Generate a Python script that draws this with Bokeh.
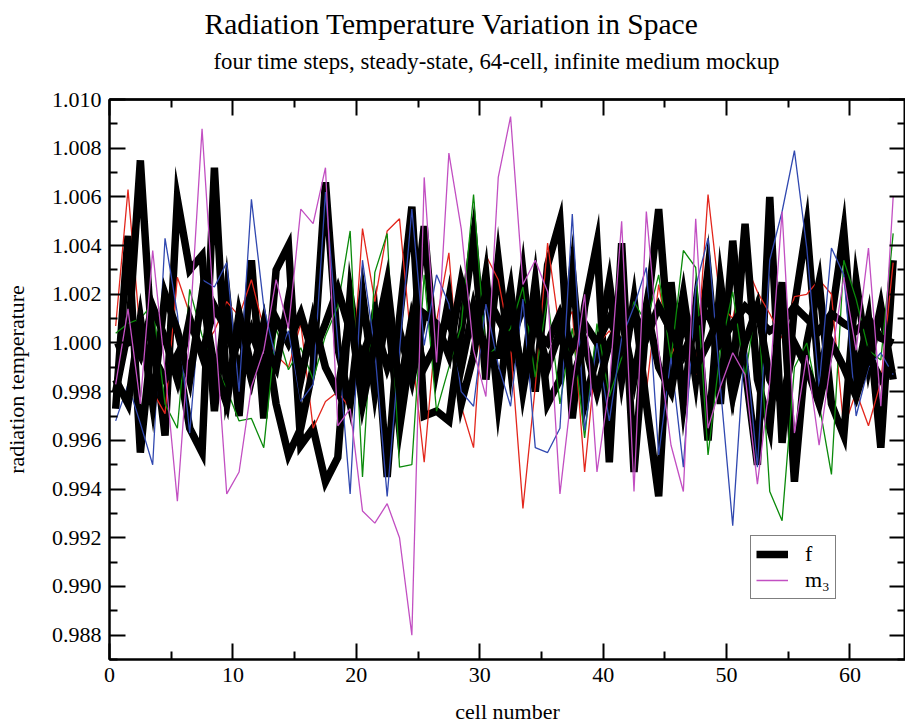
from bokeh.plotting import figure
from bokeh.models import (LinearAxis, FixedTicker, PrintfTickFormatter, Title,
                          Legend, LegendItem, Range1d)
from bokeh.embed import file_html
from bokeh.resources import INLINE

FONT = "Liberation Serif"

# cell centres
cell = [i + 0.5 for i in range(64)]

# f at four time steps (thick black)
f_t0 = [0.9973, 1.0044, 0.9955, 1.0005, 0.9962, 1.0059, 1.0030, 1.0036, 0.9972, 1.0021,
        0.9970, 1.0034, 0.9969, 1.0030, 1.0040, 0.9958, 0.9965, 0.9943, 0.9953, 1.0020,
        0.9985, 1.0012, 0.9945, 1.0010, 1.0056, 0.9970, 0.9972, 0.9968, 1.0005, 1.0044,
        0.9985, 1.0034, 0.9990, 1.0029, 0.9980, 1.0032, 1.0050, 0.9969, 1.0015, 1.0041,
        0.9951, 1.0041, 0.9947, 1.0010, 1.0055, 0.9990, 1.0020, 0.9985, 1.0030, 0.9975,
        1.0042, 0.9990, 0.9950, 1.0060, 0.9959, 1.0015, 1.0048, 0.9985, 1.0010, 1.0046,
        0.9985, 1.0010, 0.9957, 1.0034]
f_t1 = [0.9998, 1.0000, 1.0075, 0.9995, 0.9985, 0.9995, 0.9965, 0.9955, 1.0072, 0.9980,
        1.0005, 0.9985, 1.0008, 0.9975, 0.9954, 0.9965, 0.9990, 1.0066, 0.9998, 0.9975,
        1.0020, 0.9980, 1.0015, 0.9965, 1.0000, 1.0048, 0.9990, 1.0018, 0.9975, 0.9995,
        1.0028, 0.9975, 1.0015, 0.9985, 1.0025, 0.9975, 0.9985, 1.0030, 0.9975, 0.9995,
        1.0025, 0.9985, 1.0018, 0.9975, 0.9937, 1.0025, 0.9975, 1.0015, 0.9960, 1.0025,
        0.9985, 1.0049, 0.9985, 0.9965, 1.0025, 0.9943, 1.0000, 1.0025, 0.9975, 0.9962,
        1.0025, 0.9990, 1.0015, 0.9985]
f_t2 = [0.9980, 1.0005, 0.9995, 1.0015, 1.0002, 0.9985, 1.0010, 0.9995, 1.0015, 1.0005,
        0.9990, 1.0005, 0.9990, 1.0010, 1.0000, 1.0012, 0.9995, 1.0008, 1.0022, 1.0005,
        0.9995, 1.0008, 0.9990, 1.0005, 0.9985, 1.0012, 1.0008, 0.9995, 1.0025, 1.0005,
        1.0020, 1.0010, 1.0000, 1.0015, 1.0005, 1.0000, 1.0012, 0.9998, 1.0008, 1.0000,
        1.0010, 0.9998, 1.0012, 1.0002, 1.0015, 1.0005, 0.9995, 1.0008, 1.0012, 1.0000,
        1.0008, 1.0015, 1.0010, 1.0005, 1.0008, 1.0015, 1.0010, 1.0005, 1.0012, 1.0008,
        1.0005, 1.0010, 1.0002, 1.0000]
f_t3 = [0.9985, 0.9975, 1.0010, 0.9975, 1.0020, 1.0005, 0.9985, 1.0020, 0.9990, 0.9975,
        1.0012, 0.9990, 1.0000, 0.9990, 1.0018, 0.9985, 1.0010, 0.9990, 0.9980, 1.0012,
        0.9975, 1.0000, 1.0025, 0.9980, 1.0010, 0.9990, 1.0000, 1.0010, 0.9990, 1.0015,
        0.9995, 0.9995, 1.0022, 0.9980, 1.0010, 0.9990, 1.0005, 0.9985, 1.0000, 0.9980,
        1.0000, 1.0010, 0.9985, 1.0015, 0.9990, 0.9980, 1.0010, 0.9990, 1.0000, 1.0012,
        0.9978, 1.0000, 1.0015, 0.9985, 0.9975, 1.0000, 0.9990, 0.9975, 1.0000, 0.9990,
        0.9978, 0.9995, 0.9985, 0.9990]

# m at four time steps (thin coloured)
m_0 = [1.0007, 1.0063, 1.0003, 0.9980, 0.9971, 1.0027, 1.0012, 0.9997, 1.0005, 1.0017,
       1.0011, 1.0026, 1.0006, 0.9995, 0.9990, 1.0008, 0.9965, 0.9976, 0.9980, 0.9973,
       1.0047, 1.0017, 1.0046, 1.0051, 0.9997, 0.9951, 1.0009, 1.0037, 0.9974, 0.9957,
       1.0036, 1.0026, 0.9999, 0.9932, 0.9982, 1.0041, 1.0004, 1.0013, 0.9947, 0.9999,
       1.0005, 0.9995, 1.0008, 0.9980, 1.0024, 0.9995, 1.0006, 0.9987, 1.0061, 1.0016,
       1.0010, 1.0033, 1.0021, 1.0012, 1.0002, 1.0019, 1.0020, 1.0026, 1.0020, 0.9965,
       0.9980, 0.9966, 0.9984, 1.0033]
m_1 = [1.0004, 1.0008, 1.0010, 1.0016, 0.9975, 0.9965, 1.0022, 1.0003, 0.9992, 0.9981,
       0.9968, 0.9969, 0.9957, 1.0006, 0.9989, 0.9998, 0.9985, 1.0003, 1.0015, 1.0046,
       0.9945, 1.0029, 1.0045, 0.9949, 0.9950, 1.0028, 0.9972, 0.9990, 1.0007, 1.0061,
       0.9994, 0.9999, 1.0006, 1.0023, 0.9986, 1.0019, 0.9975, 1.0006, 0.9961, 1.0008,
       0.9978, 0.9994, 1.0017, 1.0008, 1.0028, 0.9993, 1.0038, 1.0031, 0.9954, 0.9997,
       1.0021, 0.9986, 1.0019, 0.9939, 0.9927, 0.9990, 1.0000, 0.9975, 0.9946, 1.0034,
       1.0018, 0.9997, 0.9993, 1.0045]
m_2 = [0.9968, 0.9983, 0.9967, 0.9950, 1.0043, 1.0012, 0.9963, 1.0026, 1.0023, 1.0033,
       0.9980, 1.0059, 1.0015, 0.9993, 1.0005, 0.9976, 0.9983, 1.0062, 1.0000, 0.9938,
       1.0034, 0.9997, 0.9937, 0.9997, 1.0055, 0.9999, 1.0028, 1.0016, 0.9980, 0.9974,
       1.0016, 0.9991, 0.9974, 1.0018, 0.9957, 0.9955, 0.9965, 1.0053, 0.9964, 1.0000,
       0.9968, 1.0002, 1.0015, 1.0031, 0.9954, 0.9994, 0.9949, 1.0023, 1.0043, 0.9982,
       0.9925, 1.0002, 0.9949, 1.0034, 1.0054, 1.0079, 1.0039, 0.9982, 1.0039, 1.0028,
       0.9970, 0.9990, 0.9996, 0.9987]
m_3 = [0.9983, 1.0014, 0.9975, 1.0038, 0.9989, 0.9935, 1.0005, 1.0088, 1.0010, 0.9938,
       0.9947, 0.9982, 0.9997, 1.0026, 1.0006, 1.0055, 1.0049, 1.0072, 0.9966, 0.9973,
       0.9931, 0.9926, 0.9934, 0.9920, 0.9880, 1.0068, 0.9992, 1.0078, 1.0047, 0.9997,
       0.9978, 1.0068, 1.0093, 1.0024, 1.0034, 1.0021, 0.9938, 0.9982, 1.0020, 0.9947,
       0.9982, 1.0050, 0.9939, 1.0054, 0.9997, 0.9958, 0.9939, 1.0051, 0.9965, 0.9982,
       0.9996, 0.9987, 0.9942, 0.9984, 1.0054, 0.9963, 0.9995, 0.9958, 0.9994, 1.0027,
       0.9997, 1.0039, 0.9974, 1.0060]

x_major = [0, 10, 20, 30, 40, 50, 60]
x_minor = [5, 15, 25, 35, 45, 55]
y_major = [0.988, 0.990, 0.992, 0.994, 0.996, 0.998, 1.000, 1.002, 1.004, 1.006, 1.008, 1.010]
y_minor = [0.987, 0.989, 0.991, 0.993, 0.995, 0.997, 0.999, 1.001, 1.003, 1.005, 1.007, 1.009]

title_text = "Radiation Temperature Variation in Space"
subtitle_text = "four time steps, steady-state, 64-cell, infinite medium mockup"

p = figure(width=905, height=726, x_range=Range1d(0, 64.5), y_range=Range1d(0.987, 1.010),
           output_backend="svg", toolbar_location=None, title=None,
           min_border_left=10, min_border_right=0, min_border_bottom=10, min_border_top=99)
p.xgrid.visible = False
p.ygrid.visible = False
p.outline_line_color = "black"
p.outline_line_width = 2
p.background_fill_color = "white"
p.border_fill_color = "white"


def style_axis(ax):
    ax.axis_line_color = "black"
    ax.axis_line_width = 2
    ax.major_tick_in = 16
    ax.major_tick_out = 0
    ax.minor_tick_in = 8
    ax.minor_tick_out = 0
    ax.major_tick_line_width = 2
    ax.minor_tick_line_width = 2
    ax.major_tick_line_color = "black"
    ax.minor_tick_line_color = "black"
    ax.major_label_text_font = FONT
    ax.major_label_text_font_size = "22px"
    ax.major_label_text_color = "black"
    ax.axis_label_text_font = FONT
    ax.axis_label_text_font_size = "22px"
    ax.axis_label_text_font_style = "normal"
    ax.axis_label_text_color = "black"


xa = p.xaxis[0]
style_axis(xa)
xa.ticker = FixedTicker(ticks=x_major, minor_ticks=x_minor)
xa.axis_label = "cell number"
xa.major_label_standoff = 8
xa.axis_label_standoff = 14

ya = p.yaxis[0]
style_axis(ya)
ya.ticker = FixedTicker(ticks=y_major, minor_ticks=y_minor)
ya.formatter = PrintfTickFormatter(format="%.3f")
ya.axis_label = "radiation temperature"
ya.major_label_standoff = 8
ya.axis_label_standoff = 20


def mirror_axis(side, long_pos, short_pos):
    # tick-only mirror axes (no labels): long ticks and short ticks
    for pos, length in ((long_pos, 16), (short_pos, 8)):
        ax = LinearAxis()
        style_axis(ax)
        ax.ticker = FixedTicker(ticks=[], minor_ticks=pos)
        ax.minor_tick_in = length
        ax.major_label_standoff = 0
        p.add_layout(ax, side)


mirror_axis("right", y_major, y_minor)
mirror_axis("above", x_major, x_minor)

sub = Title(text=subtitle_text, align="left", offset=104, text_font=FONT,
            text_font_size="22.8px", text_font_style="normal", text_color="black", standoff=52)
p.add_layout(sub, "above")
main = Title(text=title_text, align="left", offset=95, text_font=FONT,
             text_font_size="29.5px", text_font_style="normal", text_color="black", standoff=0)
try:
    main.standoff = -38
except Exception:
    main.standoff = 0
p.add_layout(main, "above")

black_series = [f_t0, f_t1, f_t2, f_t3]
m_series = [m_0, m_1, m_2, m_3]
m_colors = ["#e3261c", "#0a8a0a", "#3048b0", "#c24fc2"]

f_renderers = []
m_renderers = []
for fs, ms, col in zip(black_series, m_series, m_colors):
    rf = p.line(cell, fs, line_color="black", line_width=7.5, line_join="miter")
    rm = p.line(cell, ms, line_color=col, line_width=1.3)
    f_renderers.append(rf)
    m_renderers.append(rm)

legend = Legend(items=[LegendItem(label="f", renderers=[f_renderers[0]]),
                       LegendItem(label="m\u2083", renderers=[m_renderers[3]])],
                location=(641, 60), orientation="vertical",
                border_line_color="black", border_line_width=1.5,
                background_fill_color="white", background_fill_alpha=1.0,
                label_text_font=FONT, label_text_font_size="22px", label_text_color="black",
                glyph_width=32, glyph_height=20, label_height=20,
                label_standoff=17, padding=5, spacing=0, margin=0)
p.add_layout(legend)

open("out.html", "w").write(file_html(p, INLINE))
